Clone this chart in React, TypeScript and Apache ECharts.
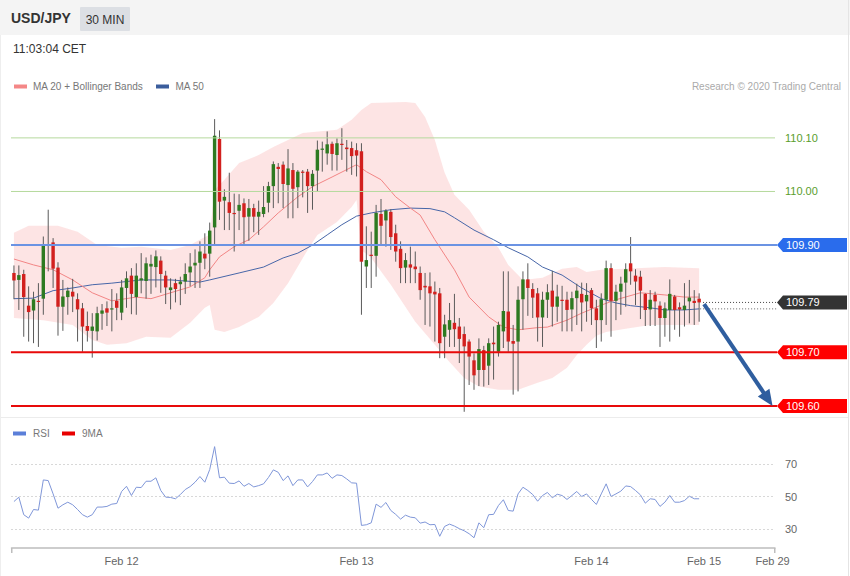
import React, { useEffect, useRef } from 'react';
import * as echarts from 'echarts';

const FONT = '"Liberation Sans", Arial, Helvetica, sans-serif';

// 30-minute slots on the category axis and the date tick labels
const slotCount = 156;
const xTickIndex = [22, 70, 118, 141, 155];
const xTickLabels = ['Feb 12', 'Feb 13', 'Feb 14', 'Feb 15', 'Feb 29'];

// USD/JPY 30 min candles: [open, high, low, close]
const candles: number[][] = [
  [109.848, 109.862, 109.799, 109.834], [109.835, 109.862, 109.779, 109.844], [109.846, 109.854, 109.729, 109.803],
  [109.787, 109.823, 109.72, 109.775], [109.778, 109.813, 109.717, 109.799], [109.796, 109.829, 109.71, 109.794],
  [109.8, 109.916, 109.77, 109.902], [109.902, 109.966, 109.851, 109.9], [109.905, 109.913, 109.82, 109.856],
  [109.858, 109.868, 109.731, 109.785], [109.785, 109.835, 109.74, 109.804], [109.803, 109.821, 109.77, 109.815],
  [109.813, 109.837, 109.775, 109.804], [109.799, 109.81, 109.72, 109.78], [109.782, 109.792, 109.701, 109.748],
  [109.749, 109.776, 109.72, 109.74], [109.74, 109.773, 109.69, 109.748], [109.739, 109.785, 109.722, 109.773],
  [109.772, 109.79, 109.742, 109.778], [109.782, 109.795, 109.749, 109.774], [109.781, 109.818, 109.739, 109.782],
  [109.796, 109.81, 109.76, 109.783], [109.774, 109.835, 109.76, 109.821], [109.82, 109.851, 109.783, 109.838],
  [109.843, 109.857, 109.771, 109.809], [109.803, 109.866, 109.77, 109.843], [109.834, 109.885, 109.81, 109.838],
  [109.833, 109.877, 109.8, 109.866], [109.86, 109.882, 109.809, 109.865], [109.859, 109.89, 109.821, 109.879],
  [109.871, 109.879, 109.811, 109.846], [109.843, 109.852, 109.79, 109.821], [109.816, 109.838, 109.78, 109.821],
  [109.829, 109.837, 109.793, 109.818], [109.827, 109.841, 109.788, 109.832], [109.832, 109.866, 109.809, 109.846],
  [109.849, 109.885, 109.823, 109.86], [109.862, 109.892, 109.82, 109.867], [109.867, 109.907, 109.82, 109.888],
  [109.884, 109.922, 109.855, 109.875], [109.884, 109.942, 109.841, 109.927], [109.933, 110.135, 109.9, 110.104],
  [110.098, 110.114, 109.947, 109.981], [109.983, 110.004, 109.928, 109.99], [109.98, 110.035, 109.928, 109.96],
  [109.96, 109.996, 109.888, 109.959], [109.964, 109.995, 109.928, 109.975], [109.978, 109.987, 109.899, 109.952],
  [109.953, 109.986, 109.908, 109.969], [109.969, 109.977, 109.924, 109.953], [109.953, 109.983, 109.919, 109.962],
  [109.958, 110.01, 109.952, 109.971], [109.979, 110.018, 109.961, 110.01], [110.01, 110.056, 109.969, 110.051],
  [110.046, 110.053, 109.978, 110.042], [110.05, 110.056, 109.969, 110.014], [110.012, 110.079, 109.95, 110.043],
  [110.04, 110.053, 109.95, 110.005], [110.008, 110.04, 109.969, 110.037], [110.037, 110.04, 109.989, 110.036],
  [110.037, 110.042, 109.96, 110.01], [110.01, 110.04, 109.966, 110.033], [110.039, 110.095, 110.0, 110.078],
  [110.079, 110.093, 110.037, 110.08], [110.071, 110.112, 110.05, 110.088], [110.089, 110.093, 110.039, 110.07],
  [110.068, 110.099, 110.039, 110.09], [110.089, 110.118, 110.059, 110.088], [110.082, 110.096, 110.037, 110.079],
  [110.081, 110.093, 110.031, 110.066], [110.077, 110.09, 110.028, 110.067], [110.075, 110.09, 109.77, 109.869],
  [109.86, 109.935, 109.82, 109.872], [109.882, 109.925, 109.82, 109.881], [109.88, 109.975, 109.841, 109.96],
  [109.958, 109.986, 109.9, 109.936], [109.946, 109.967, 109.897, 109.964], [109.962, 109.967, 109.891, 109.915],
  [109.922, 109.938, 109.869, 109.888], [109.893, 109.907, 109.829, 109.857], [109.858, 109.885, 109.829, 109.872],
  [109.864, 109.897, 109.829, 109.858], [109.86, 109.888, 109.829, 109.855], [109.848, 109.86, 109.798, 109.816],
  [109.824, 109.848, 109.751, 109.821], [109.823, 109.849, 109.748, 109.81], [109.813, 109.832, 109.72, 109.808],
  [109.81, 109.82, 109.689, 109.717], [109.729, 109.77, 109.689, 109.752], [109.742, 109.792, 109.71, 109.76],
  [109.755, 109.809, 109.71, 109.743], [109.748, 109.764, 109.68, 109.725], [109.734, 109.748, 109.589, 109.711],
  [109.72, 109.724, 109.639, 109.692], [109.685, 109.698, 109.63, 109.657], [109.667, 109.726, 109.637, 109.706],
  [109.704, 109.712, 109.636, 109.667], [109.675, 109.726, 109.639, 109.717], [109.718, 109.748, 109.649, 109.715],
  [109.701, 109.757, 109.692, 109.751], [109.739, 109.851, 109.708, 109.777], [109.776, 109.851, 109.701, 109.72],
  [109.721, 109.751, 109.621, 109.716], [109.72, 109.823, 109.627, 109.798], [109.799, 109.851, 109.742, 109.836],
  [109.836, 109.866, 109.768, 109.82], [109.818, 109.829, 109.764, 109.802], [109.81, 109.82, 109.72, 109.765],
  [109.765, 109.813, 109.71, 109.798], [109.798, 109.827, 109.764, 109.812], [109.815, 109.852, 109.748, 109.785],
  [109.785, 109.826, 109.757, 109.804], [109.798, 109.824, 109.739, 109.796], [109.798, 109.813, 109.739, 109.779],
  [109.78, 109.813, 109.739, 109.801], [109.801, 109.828, 109.751, 109.815], [109.809, 109.83, 109.739, 109.793],
  [109.795, 109.829, 109.757, 109.807], [109.816, 109.82, 109.751, 109.782], [109.782, 109.798, 109.708, 109.76],
  [109.76, 109.81, 109.72, 109.799], [109.798, 109.871, 109.751, 109.857], [109.857, 109.866, 109.729, 109.796],
  [109.796, 109.826, 109.76, 109.813], [109.813, 109.841, 109.77, 109.828], [109.83, 109.866, 109.785, 109.855],
  [109.866, 109.915, 109.826, 109.851], [109.843, 109.855, 109.788, 109.832], [109.841, 109.852, 109.762, 109.815],
  [109.809, 109.81, 109.749, 109.779], [109.78, 109.816, 109.749, 109.798], [109.807, 109.813, 109.749, 109.795],
  [109.787, 109.795, 109.71, 109.764], [109.764, 109.793, 109.729, 109.782], [109.779, 109.836, 109.72, 109.809],
  [109.804, 109.807, 109.742, 109.779], [109.784, 109.793, 109.729, 109.78], [109.779, 109.829, 109.748, 109.787],
  [109.795, 109.835, 109.754, 109.802], [109.796, 109.816, 109.751, 109.792], [109.8, 109.81, 109.757, 109.793],
];

// RSI(14) per candle
const rsiValues = [
  46.9, 49.6, 38.8, 36.7, 42.0, 41.6, 60.2, 59.8, 51.6, 42.8,
  44.9, 46.5, 44.9, 42.0, 38.8, 37.3, 38.8, 43.5, 43.5, 43.9,
  45.3, 45.7, 53.1, 56.3, 50.6, 55.7, 55.5, 59.4, 59.4, 61.5,
  53.7, 49.6, 49.4, 48.6, 51.2, 54.3, 56.1, 58.8, 62.3, 58.8,
  66.6, 80.7, 61.5, 61.9, 58.2, 58.0, 59.6, 56.3, 58.0, 55.9,
  56.7, 57.8, 61.7, 66.4, 64.9, 59.8, 62.7, 56.7, 60.2, 60.2,
  55.9, 59.2, 63.3, 63.3, 64.5, 61.2, 63.3, 62.9, 60.8, 58.4,
  58.2, 32.2, 32.6, 33.8, 45.3, 43.3, 46.3, 41.4, 39.0, 36.1,
  38.5, 37.3, 36.9, 33.6, 34.3, 32.6, 32.8, 25.5, 31.6, 33.0,
  31.8, 30.2, 28.9, 27.1, 24.6, 33.8, 30.8, 38.8, 39.0, 44.5,
  48.0, 41.4, 41.0, 51.6, 55.7, 53.7, 51.2, 47.1, 50.6, 52.5,
  49.2, 51.4, 50.6, 48.2, 50.6, 53.1, 50.0, 51.6, 48.2, 45.1,
  51.6, 57.8, 50.0, 51.6, 53.3, 56.5, 56.1, 53.7, 51.0, 45.9,
  48.6, 48.2, 43.9, 46.5, 50.6, 46.5, 46.5, 47.5, 50.2, 48.6,
  48.6,
];

// indicator read-outs: [candle index, price]
const ma20Points = [
  [0, 109.874], [4, 109.863], [8, 109.854], [12, 109.835], [16, 109.811], [20, 109.796], [25, 109.803],
  [28, 109.8], [32, 109.811], [36, 109.822], [39, 109.839], [40, 109.854], [42, 109.878], [45, 109.897],
  [48, 109.91], [51, 109.934], [54, 109.96], [58, 109.99], [61, 110.009], [65, 110.027], [70, 110.05],
  [72, 110.037], [75, 110.022], [78, 109.99], [81, 109.969], [83, 109.956], [86, 109.91], [90, 109.854],
  [93, 109.803], [97, 109.766], [100, 109.747], [103, 109.742], [107, 109.746], [109, 109.747], [113, 109.76],
  [116, 109.773], [120, 109.788], [123, 109.798], [128, 109.811], [133, 109.807], [137, 109.803], [140, 109.803],
];
const ma50Points = [
  [0, 109.8], [4, 109.801], [8, 109.815], [12, 109.82], [16, 109.826], [20, 109.829], [26, 109.835],
  [32, 109.835], [38, 109.831], [40, 109.835], [46, 109.848], [51, 109.859], [55, 109.876], [58, 109.885],
  [61, 109.9], [64, 109.919], [67, 109.938], [70, 109.954], [73, 109.96], [77, 109.966], [81, 109.969],
  [85, 109.968], [88, 109.962], [90, 109.951], [94, 109.928], [98, 109.91], [101, 109.895], [105, 109.878],
  [108, 109.859], [112, 109.844], [116, 109.82], [120, 109.8], [123, 109.792], [126, 109.787], [130, 109.783],
  [133, 109.779], [137, 109.779], [140, 109.781],
];
const bbUpper = [
  [0, 109.923], [3, 109.936], [9, 109.936], [13, 109.925], [17, 109.9], [22, 109.895], [26, 109.897],
  [32, 109.891], [36, 109.9], [39, 109.915], [40, 109.919], [41, 110.003], [43, 110.022], [46, 110.053],
  [50, 110.068], [53, 110.083], [59, 110.109], [66, 110.115], [69, 110.134], [71, 110.152], [73, 110.165],
  [80, 110.167], [82, 110.165], [84, 110.139], [86, 110.096], [88, 110.035], [90, 109.994], [93, 109.966],
  [96, 109.925], [99, 109.895], [101, 109.863], [104, 109.835], [108, 109.839], [112, 109.856], [115, 109.859],
  [117, 109.85], [120, 109.854], [127, 109.857], [133, 109.859], [140, 109.857],
];
const bbLower = [
  [0, 109.764], [6, 109.76], [12, 109.751], [16, 109.723], [19, 109.714], [23, 109.717], [27, 109.729],
  [32, 109.727], [36, 109.755], [39, 109.783], [40, 109.788], [41, 109.742], [43, 109.738], [46, 109.747],
  [50, 109.766], [53, 109.792], [56, 109.829], [60, 109.891], [62, 109.919], [66, 109.943], [69, 109.971],
  [70, 109.984], [71, 109.891], [73, 109.876], [77, 109.826], [82, 109.757], [86, 109.714], [89, 109.682],
  [92, 109.652], [95, 109.636], [99, 109.63], [103, 109.63], [107, 109.643], [110, 109.652], [113, 109.671],
  [115, 109.695], [117, 109.714], [119, 109.731], [121, 109.738], [125, 109.744], [130, 109.751], [140, 109.751],
];

// key levels
const resistanceLevels = [110.1, 110.0];
const pivotLevel = 109.9;
const supportLevels = [109.7, 109.6];
const rsiLevels = [70, 50, 30];
// forecast arrow: [from index, from price, to index, to price]
const forecastArrow = [141, 109.79, 155, 109.6];

const GREEN = '#2e7a21';
const RED = '#d2201e';

const txtStyle = (o: any) => ({
  fontFamily: FONT,
  verticalAlign: 'middle',
  textVerticalAlign: 'middle',
  align: o.align || 'left',
  textAlign: o.align || 'left',
  ...o,
});

export default function App() {
  const ref = useRef<HTMLDivElement>(null);

  useEffect(() => {
    const chart = echarts.init(ref.current!, null, { renderer: 'svg' });

    const categories = Array.from({ length: slotCount }, (_, i) => 's' + i);
    const labelByCat: Record<string, string> = {};
    xTickIndex.forEach((idx, k) => { labelByCat['s' + idx] = xTickLabels[k]; });

    const lastPrice = candles[candles.length - 1][3];
    const ma50Last = ma50Points[ma50Points.length - 1][1];
    const levelRows = [
      ...resistanceLevels.map((v) => ({ v, kind: 'res' })),
      { v: pivotLevel, kind: 'pivot' },
      { v: lastPrice, kind: 'last' },
      ...supportLevels.map((v) => ({ v, kind: 'sup' })),
    ];

    const option: any = {
      animation: false,
      backgroundColor: '#ffffff',
      textStyle: { fontFamily: FONT },
      grid: [
        { left: 11.5, right: 75, top: 95, height: 320, containLabel: false, outerBoundsMode: 'none' },
        { left: 11.5, right: 75, top: 439, height: 109, containLabel: false, outerBoundsMode: 'none' },
      ],
      xAxis: [
        { type: 'category', gridIndex: 0, data: categories, boundaryGap: true, show: false },
        {
          type: 'category', gridIndex: 1, data: categories, boundaryGap: true,
          axisLine: { show: true, lineStyle: { color: '#bdbdbd', width: 1.5 } },
          axisTick: { show: false },
          splitLine: { show: false },
          axisLabel: {
            interval: (i: number) => xTickIndex.includes(i),
            formatter: (v: string) => labelByCat[v] || '',
            color: '#666', fontSize: 11, fontFamily: FONT, margin: 7,
          },
        },
      ],
      yAxis: [
        { type: 'value', gridIndex: 0, min: 109.583, max: 110.18, show: false, splitLine: { show: false } },
        { type: 'value', gridIndex: 1, min: 18.3, max: 85.4, show: false, splitLine: { show: false } },
      ],
      series: [
        {
          name: 'Bollinger Bands', type: 'custom', xAxisIndex: 0, yAxisIndex: 0, z: 1, silent: true,
          data: [[0, 109.9]],
          renderItem: (params: any, api: any) => {
            if (params.dataIndex !== 0) return;
            const pts = bbUpper.map((p) => api.coord(p)).concat(bbLower.slice().reverse().map((p) => api.coord(p)));
            return { type: 'polygon', shape: { points: pts }, style: { fill: 'rgba(250,165,165,0.3)' } };
          },
        },
        {
          name: 'MA 50', type: 'line', xAxisIndex: 0, yAxisIndex: 0, z: 2, silent: true,
          data: ma50Points, showSymbol: false, symbol: 'none',
          lineStyle: { color: '#4766a8', width: 1 },
        },
        {
          name: 'MA 20', type: 'line', xAxisIndex: 0, yAxisIndex: 0, z: 2, silent: true,
          data: ma20Points, showSymbol: false, symbol: 'none',
          lineStyle: { color: '#f28585', width: 1 },
        },
        {
          name: 'USD/JPY', type: 'custom', xAxisIndex: 0, yAxisIndex: 0, z: 3, silent: true,
          data: candles.map((c, i) => [i, c[0], c[1], c[2], c[3]]),
          encode: { x: 0, y: [1, 2, 3, 4] },
          renderItem: (params: any, api: any) => {
            const i = api.value(0);
            const o = api.value(1), h = api.value(2), l = api.value(3), c = api.value(4);
            const pO = api.coord([i, o]);
            const pC = api.coord([i, c]);
            const pH = api.coord([i, h]);
            const pL = api.coord([i, l]);
            const w = api.size([1, 0])[0] * 0.7;
            const x = pO[0];
            const top = Math.min(pO[1], pC[1]);
            const bh = Math.max(Math.abs(pO[1] - pC[1]), 1.2);
            return {
              type: 'group',
              children: [
                { type: 'line', shape: { x1: x, y1: pH[1], x2: x, y2: pL[1] }, style: { stroke: '#5a5a5a', lineWidth: 1 } },
                { type: 'rect', shape: { x: x - w / 2, y: top, width: w, height: bh }, style: { fill: c >= o ? GREEN : RED } },
              ],
            };
          },
        },
        {
          name: 'Levels', type: 'custom', xAxisIndex: 0, yAxisIndex: 0, z: 4, silent: true, clip: false,
          data: levelRows.map((r, i) => [i, r.v]),
          encode: { x: 0, y: 1 },
          renderItem: (params: any, api: any) => {
            const row = levelRows[params.dataIndex];
            const cs = params.coordSys;
            const y = api.coord([0, row.v])[1];
            const xL = cs.x - 0.5;
            const xR = cs.x + cs.width;
            const tagX = xR + 2;
            const children: any[] = [];
            const tag = (fill: string) => ({
              type: 'polygon',
              shape: { points: [[tagX, y], [tagX + 6, y - 7], [tagX + 70, y - 7], [tagX + 70, y + 7], [tagX + 6, y + 7]] },
              style: { fill },
            });
            const label = (fill: string, x: number) => ({
              type: 'text',
              style: txtStyle({ text: row.v.toFixed(2), x, y, fill, fontSize: 11 }),
            });
            if (row.kind === 'res') {
              children.push({ type: 'line', shape: { x1: xL, y1: y, x2: xR, y2: y }, style: { stroke: '#b5d99d', lineWidth: 1 } });
              children.push(label('#5a9e2c', xR + 10));
            } else if (row.kind === 'pivot') {
              children.push({ type: 'line', shape: { x1: xL, y1: y, x2: tagX, y2: y }, style: { stroke: '#6b93e3', lineWidth: 2 } });
              children.push(tag('#2a6cec'));
              children.push(label('#ffffff', tagX + 9));
            } else if (row.kind === 'sup') {
              children.push({ type: 'line', shape: { x1: xL, y1: y, x2: tagX, y2: y }, style: { stroke: '#e80a0a', lineWidth: 2 } });
              children.push(tag('#ff0000'));
              children.push(label('#ffffff', tagX + 9));
            } else {
              const xs = api.coord([candles.length, row.v])[0] - 1;
              const y2 = api.coord([0, ma50Last])[1];
              const xs2 = api.coord([candles.length - 1, ma50Last])[0] + 1;
              children.push({ type: 'line', shape: { x1: xs2, y1: y2, x2: tagX, y2: y2 }, style: { stroke: '#666', lineWidth: 1, lineDash: [1, 2] } });
              children.push({ type: 'line', shape: { x1: xs, y1: y, x2: tagX, y2: y }, style: { stroke: '#444', lineWidth: 1, lineDash: [1, 2] } });
              children.push(tag('#333333'));
              children.push(label('#ffffff', tagX + 9));
            }
            return { type: 'group', children };
          },
        },
        {
          name: 'Forecast', type: 'custom', xAxisIndex: 0, yAxisIndex: 0, z: 5, silent: true, clip: false,
          data: [forecastArrow],
          encode: { x: [0, 2], y: [1, 3] },
          renderItem: (params: any, api: any) => {
            const p0 = api.coord([api.value(0), api.value(1)]);
            const p1 = api.coord([api.value(2), api.value(3)]);
            const dx = p1[0] - p0[0];
            const dy = p1[1] - p0[1];
            const len = Math.hypot(dx, dy);
            const ux = dx / len, uy = dy / len;
            const headL = 16, headW = 7;
            const bx = p1[0] - ux * headL, by = p1[1] - uy * headL;
            return {
              type: 'group',
              children: [
                { type: 'line', shape: { x1: p0[0], y1: p0[1], x2: bx + ux * 2, y2: by + uy * 2 }, style: { stroke: '#2f5e9f', lineWidth: 4 } },
                {
                  type: 'polygon',
                  shape: { points: [[p1[0], p1[1]], [bx - uy * headW, by + ux * headW], [bx + uy * headW, by - ux * headW]] },
                  style: { fill: '#2f5e9f' },
                },
              ],
            };
          },
        },
        {
          name: 'RSI', type: 'line', xAxisIndex: 1, yAxisIndex: 1, z: 3, silent: true,
          data: rsiValues, showSymbol: false, symbol: 'none',
          lineStyle: { color: '#7f96d8', width: 1 },
          markLine: {
            silent: true, symbol: ['none', 'none'],
            lineStyle: { type: [1, 3], color: '#b0b0b0', width: 1 },
            label: { position: 'end', formatter: '{c}', color: '#666', fontSize: 11, fontFamily: FONT, distance: 10 },
            data: rsiLevels.map((v) => ({ yAxis: v })),
          },
        },
      ],
      graphic: [
        { type: 'rect', silent: true, shape: { x: 0, y: 0, width: 850, height: 35 }, style: { fill: '#f4f4f4' } },
        { type: 'text', silent: true, style: txtStyle({ text: 'USD/JPY', x: 11, y: 18, fill: '#333', fontSize: 14, fontWeight: 'bold' }) },
        { type: 'rect', silent: true, shape: { x: 80, y: 7, width: 50, height: 24, r: 1 }, style: { fill: '#dcdfe4' } },
        { type: 'text', silent: true, style: txtStyle({ text: '30 MIN', x: 105, y: 19.5, fill: '#333', fontSize: 12, align: 'center' }) },
        { type: 'text', silent: true, style: txtStyle({ text: '11:03:04 CET', x: 13, y: 48.5, fill: '#333', fontSize: 12 }) },
        { type: 'rect', silent: true, shape: { x: 14, y: 84.5, width: 13, height: 4 }, style: { fill: '#f48787' } },
        { type: 'text', silent: true, style: txtStyle({ text: 'MA 20 + Bollinger Bands', x: 33, y: 86.5, fill: '#777', fontSize: 10 }) },
        { type: 'rect', silent: true, shape: { x: 156, y: 84.5, width: 13, height: 4 }, style: { fill: '#3b5d9c' } },
        { type: 'text', silent: true, style: txtStyle({ text: 'MA 50', x: 175.5, y: 86.5, fill: '#777', fontSize: 10 }) },
        { type: 'text', silent: true, style: txtStyle({ text: 'Research © 2020 Trading Central', x: 841, y: 86.5, fill: '#aaa', fontSize: 10, align: 'right' }) },
        { type: 'rect', silent: true, shape: { x: 0, y: 417, width: 848, height: 1 }, style: { fill: '#ececec' } },
        { type: 'rect', silent: true, shape: { x: 848, y: 0, width: 1, height: 576 }, style: { fill: '#e4e4e4' } },
        { type: 'rect', silent: true, shape: { x: 0, y: 35, width: 1, height: 541 }, style: { fill: '#eeeeee' } },
        { type: 'rect', silent: true, shape: { x: 13, y: 431.5, width: 13, height: 4 }, style: { fill: '#5b7fd9' } },
        { type: 'text', silent: true, style: txtStyle({ text: 'RSI', x: 33, y: 433.5, fill: '#777', fontSize: 10 }) },
        { type: 'rect', silent: true, shape: { x: 62, y: 431.5, width: 13, height: 4 }, style: { fill: '#e80000' } },
        { type: 'text', silent: true, style: txtStyle({ text: '9MA', x: 82, y: 433.5, fill: '#777', fontSize: 10 }) },
        { type: 'line', silent: true, shape: { x1: 11.75, y1: 548, x2: 11.75, y2: 553 }, style: { stroke: '#bdbdbd', lineWidth: 1.5 } },
        { type: 'line', silent: true, shape: { x1: 774.75, y1: 548, x2: 774.75, y2: 553 }, style: { stroke: '#bdbdbd', lineWidth: 1.5 } },
      ],
    };

    chart.setOption(option);
    return () => chart.dispose();
  }, []);

  return (
    <div
      ref={ref}
      style={{ position: 'fixed', left: 0, top: 0, width: 850, height: 576, background: '#fff' }}
    />
  );
}
